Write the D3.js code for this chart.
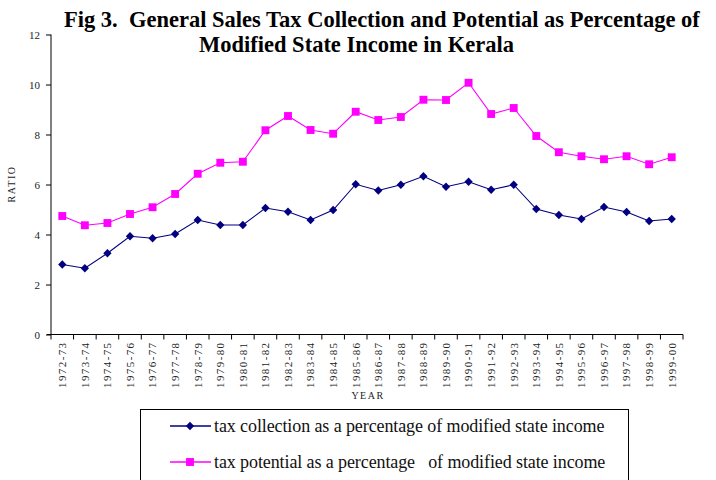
<!DOCTYPE html>
<html>
<head>
<meta charset="utf-8">
<script src="https://cdn.jsdelivr.net/npm/d3@7"></script>
<style>
  html, body { margin: 0; padding: 0; background: #fff; }
  svg { display: block; }
  svg text { font-family: "Liberation Serif", "Times New Roman", serif; }
</style>
</head>
<body>
<svg id="chart" width="716" height="480"></svg>
<script>
// Financial years
const years = ["1972-73","1973-74","1974-75","1975-76","1976-77","1977-78","1978-79",
  "1979-80","1980-81","1981-82","1982-83","1983-84","1984-85","1985-86","1986-87",
  "1987-88","1988-89","1989-90","1990-91","1991-92","1992-93","1993-94","1994-95",
  "1995-96","1996-97","1997-98","1998-99","1999-00"];

// Tax collection as % of modified state income
const collection = [2.80,2.65,3.25,3.93,3.85,4.02,4.58,4.38,4.38,5.06,4.91,4.58,4.98,6.01,
  5.76,5.99,6.33,5.91,6.11,5.79,5.99,5.02,4.78,4.62,5.10,4.90,4.54,4.62];

// Tax potential as % of modified state income
const potential = [4.74,4.37,4.46,4.82,5.09,5.62,6.43,6.87,6.91,8.17,8.74,8.18,8.03,8.91,
  8.58,8.70,9.39,9.38,10.07,8.82,9.06,7.94,7.29,7.13,7.01,7.13,6.81,7.09];

const yTicks = [0,2,4,6,8,10,12];

const series = [
  { name: "tax collection as a percentage of modified state income", values: collection, color: "#000080", marker: "diamond" },
  { name: "tax potential as a percentage   of modified state income", values: potential, color: "#FF00FF", marker: "square" }
];

const serif = "Liberation Serif";
const svg = d3.select("#chart");
const plotLeft = 51, plotRight = 683, plotTop = 34.5, plotBottom = 334.5;

const x = d3.scaleBand().domain(years).range([plotLeft, plotRight]).padding(0);
const y = d3.scaleLinear().domain([0, 12]).range([plotBottom, plotTop]);

// Title
const title = svg.append("g").attr("font-family", serif).attr("font-weight", "bold")
  .attr("font-size", 22.5).attr("fill", "#000");
title.append("text").attr("x", 64).attr("y", 27).style("white-space", "pre")
  .text("Fig 3.  General Sales Tax Collection and Potential as Percentage of");
title.append("text").attr("x", 199).attr("y", 52)
  .text("Modified State Income in Kerala");

// Y axis
const yAxis = svg.append("g").attr("transform", `translate(${plotLeft},0)`)
  .call(d3.axisLeft(y).tickValues(yTicks).tickSize(5).tickPadding(6).tickFormat(d3.format("d")));
yAxis.attr("font-family", serif);
yAxis.select(".domain").attr("stroke", "#000").attr("d", `M0,${plotTop}V${plotBottom}`);
yAxis.selectAll(".tick line").attr("stroke", "#000");
yAxis.selectAll(".tick text").attr("font-family", serif).attr("font-size", 11).attr("fill", "#222");

svg.append("text").attr("transform", `translate(15,184) rotate(-90)`)
  .attr("font-family", serif)
  .attr("text-anchor", "middle").attr("font-size", 10).attr("letter-spacing", 1.5).attr("fill", "#222")
  .text("RATIO");

// X axis
const xAxis = svg.append("g").attr("transform", `translate(0,${plotBottom})`)
  .call(d3.axisBottom(x).tickSize(0).tickPadding(0));
xAxis.attr("font-family", serif);
xAxis.select(".domain").attr("stroke", "#000").attr("d", `M${plotLeft - 4},0H${plotRight}`);
xAxis.selectAll(".tick text")
  .attr("font-family", serif).attr("font-size", 11).attr("fill", "#222")
  .attr("letter-spacing", 1.4)
  .attr("text-anchor", "end")
  .attr("transform", "rotate(-90)")
  .attr("x", -7).attr("y", 0).attr("dy", "0.35em");

// Tick marks at category boundaries
const bounds = years.map(d => x(d)).concat([x.range()[1]]);
xAxis.selectAll(".bound").data(bounds).join("line")
  .attr("class", "bound")
  .attr("x1", d => d).attr("x2", d => d).attr("y1", 0).attr("y2", 5)
  .attr("stroke", "#000");

svg.append("text").attr("x", 368).attr("y", 399).attr("text-anchor", "middle")
  .attr("font-family", serif)
  .attr("font-size", 10).attr("letter-spacing", 1.5).attr("fill", "#222").text("YEAR");

// Marker shapes
const markerPath = {
  diamond: d3.symbol().type(d3.symbolDiamond2).size(44)(),
  square: d3.symbol().type(d3.symbolSquare).size(62)()
};

const line = d3.line().x((d, i) => x(years[i]) + x.bandwidth() / 2).y(d => y(d));

series.forEach(s => {
  svg.append("path").datum(s.values)
    .attr("d", line).attr("fill", "none").attr("stroke", s.color).attr("stroke-width", 1.1);
  svg.append("g").selectAll("path").data(s.values).join("path")
    .attr("d", markerPath[s.marker])
    .attr("transform", (d, i) => `translate(${x(years[i]) + x.bandwidth() / 2},${y(d)})`)
    .attr("fill", s.color);
});

// Legend
const legend = svg.append("g");
legend.append("rect").attr("x", 140.5).attr("y", 409.5).attr("width", 488).attr("height", 100)
  .attr("fill", "none").attr("stroke", "#000");
series.forEach((s, i) => {
  const ly = 426 + i * 36;
  legend.append("line").attr("x1", 170).attr("x2", 211).attr("y1", ly).attr("y2", ly)
    .attr("stroke", s.color).attr("stroke-width", 1.3);
  legend.append("path").attr("d", markerPath[s.marker]).attr("transform", `translate(190,${ly})`)
    .attr("fill", s.color);
  legend.append("text").attr("x", 214).attr("y", ly).attr("dy", "0.32em")
    .attr("font-family", serif)
    .attr("font-size", 18).attr("letter-spacing", -0.1).style("white-space", "pre").attr("fill", "#111")
    .text(s.name);
});
</script>
</body>
</html>
